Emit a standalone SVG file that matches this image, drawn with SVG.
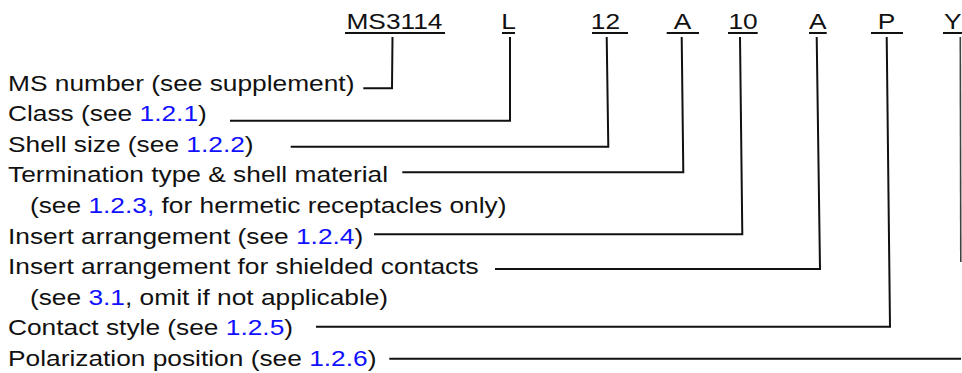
<svg xmlns="http://www.w3.org/2000/svg" width="962" height="373" viewBox="0 0 962 373">
<style>
  text { font-family: "Liberation Sans", Arial, Helvetica, sans-serif; font-size: 22.3px; fill: #111; }
  .code { text-anchor: middle; }
  .ref { fill: #1010ff; }
  .ul { stroke: #111; stroke-width: 2; fill: none; }
  .h { stroke: #111; stroke-width: 2; fill: none; }
  .v { stroke: #111; stroke-width: 1.6; fill: none; }
</style>
<rect width="962" height="373" fill="#fff"/>
<g transform="scale(1.18 1)">
  <g id="code-ms"><text class="code" x="334.3" y="29.3">MS3114</text></g>
  <g id="code-class"><text class="code" x="430.9" y="29.3">L</text></g>
  <g id="code-shell"><text class="code" x="513.1" y="29.3">12</text></g>
  <g id="code-term"><text class="code" x="578.4" y="29.3">A</text></g>
  <g id="code-insert"><text class="code" x="629.7" y="29.3">10</text></g>
  <g id="code-shield"><text class="code" x="693" y="29.3">A</text></g>
  <g id="code-contact"><text class="code" x="751.3" y="29.3">P</text></g>
  <g id="code-polar"><text class="code" x="807.5" y="29.3">Y</text></g>

  <g id="label-ms"><text x="6.8" y="90.7">MS number (see supplement)</text></g>
  <g id="label-class"><text x="6.8" y="121.3">Class (see <tspan class="ref">1.2.1</tspan>)</text></g>
  <g id="label-shell"><text x="6.8" y="151.9">Shell size (see <tspan class="ref">1.2.2</tspan>)</text></g>
  <g id="label-term">
    <text x="6.8" y="182.5">Termination type &amp; shell material</text>
    <text x="25.4" y="213.1">(see <tspan class="ref">1.2.3,</tspan> for hermetic receptacles only)</text>
  </g>
  <g id="label-insert"><text x="6.8" y="243.7">Insert arrangement (see <tspan class="ref">1.2.4</tspan>)</text></g>
  <g id="label-shield">
    <text x="6.8" y="274.3">Insert arrangement for shielded contacts</text>
    <text x="25.4" y="304.9">(see <tspan class="ref">3.1</tspan>, omit if not applicable)</text>
  </g>
  <g id="label-contact"><text x="6.8" y="335.5">Contact style (see <tspan class="ref">1.2.5</tspan>)</text></g>
  <g id="label-polar"><text x="6.8" y="366.1">Polarization position (see <tspan class="ref">1.2.6</tspan>)</text></g>
</g>
<g id="underlines">
  <line class="ul" x1="345" y1="33" x2="445" y2="33"/>
  <line class="ul" x1="502" y1="33" x2="515" y2="33"/>
  <line class="ul" x1="592" y1="33" x2="628" y2="33"/>
  <line class="ul" x1="666.7" y1="33" x2="699" y2="33"/>
  <line class="ul" x1="728" y1="33" x2="757.7" y2="33"/>
  <line class="ul" x1="809" y1="33" x2="826.7" y2="33"/>
  <line class="ul" x1="871" y1="33" x2="903" y2="33"/>
  <line class="ul" x1="943" y1="33" x2="962" y2="33"/>
</g>
<g id="connectors">
  <polyline class="h" points="363.3,88.3 392,88.3 392.5,37"/>
  <polyline class="h" points="230,120.7 510,120.7 510,37"/>
  <polyline class="h" points="290.7,146.7 608.3,146.7 606.7,37"/>
  <polyline class="h" points="402.3,172.3 683.3,172.3 681.7,37"/>
  <polyline class="h" points="374,234.3 742.3,234.3 740,37"/>
  <polyline class="h" points="495,269 820,269 816.7,37"/>
  <polyline class="h" points="316,326.7 890,326.7 886.7,37"/>
  <line class="h" x1="389.3" y1="358.8" x2="961" y2="358.8"/>
  <line class="v" x1="960.3" y1="37" x2="960.8" y2="262" stroke-opacity="0.8"/>
</g>
</svg>
